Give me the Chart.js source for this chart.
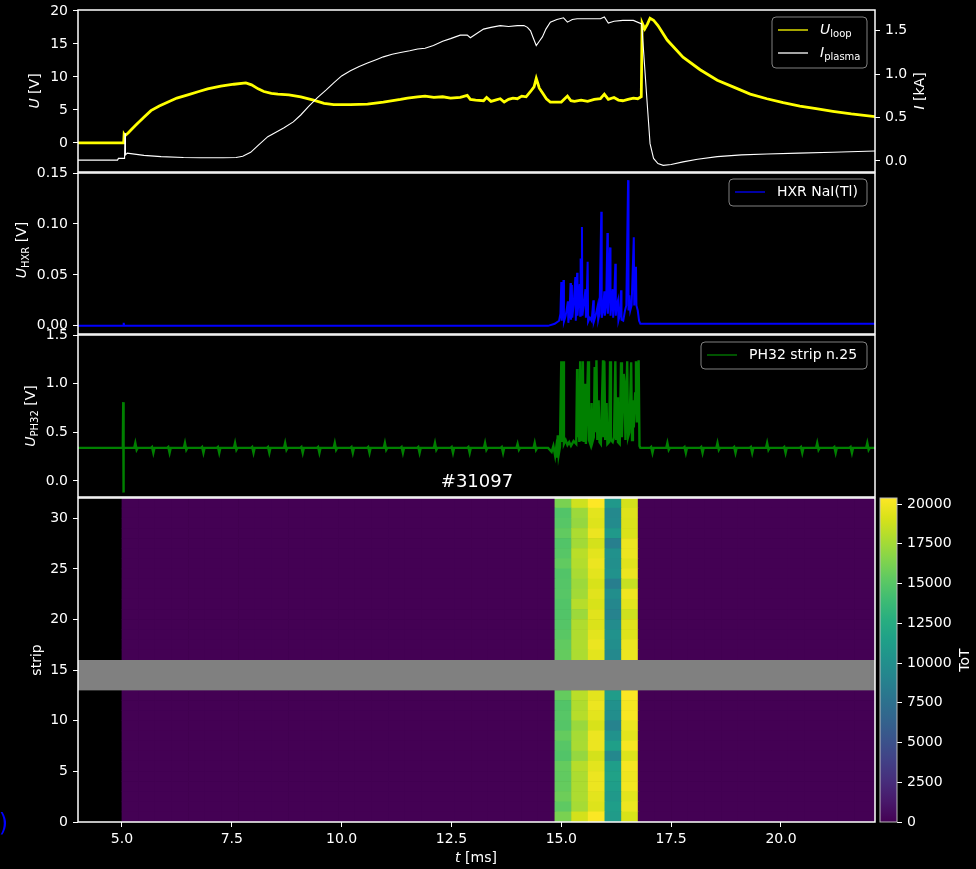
<!DOCTYPE html>
<html>
<head>
<meta charset="utf-8">
<script src="https://cdn.jsdelivr.net/npm/chart.js@4.4.1/dist/chart.umd.min.js"></script>
<style>
  body { margin: 0; background: #000; width: 976px; height: 869px; overflow: hidden; position: relative; }
  canvas { position: absolute; left: 0; }
</style>
</head>
<body>
<canvas id="loopChart"></canvas>
<canvas id="hxrChart"></canvas>
<canvas id="phChart"></canvas>
<canvas id="stripChart"></canvas>
<canvas id="cbarChart"></canvas>
<script>
// ---- data ----
const tMin = 4.0, tMax = 22.14;
const tTicks = [5.0, 7.5, 10.0, 12.5, 15.0, 17.5, 20.0];
const uTicks = [0, 5, 10, 15, 20];
const iTicks = [0.0, 0.5, 1.0, 1.5];
const hxrTicks = [0.00, 0.05, 0.10, 0.15];
const phTicks = [0.0, 0.5, 1.0, 1.5];
const stripTicks = [0, 5, 10, 15, 20, 25, 30];
const totTicks = [0, 2500, 5000, 7500, 10000, 12500, 15000, 17500, 20000];

// loop voltage [ms, V]
const uLoop = [[4.0,0],[5.04,0],[5.05,1.3],[5.07,1.1],[5.14,1.5],[5.3,2.6],[5.5,3.9],[5.66,4.9],[5.85,5.6],
  [6.05,6.2],[6.25,6.8],[6.5,7.3],[6.75,7.8],[6.95,8.2],[7.25,8.6],[7.55,8.9],[7.82,9.1],[7.95,8.8],[8.1,8.2],
  [8.23,7.8],[8.4,7.5],[8.55,7.4],[8.8,7.3],[9.07,7.0],[9.36,6.5],[9.6,6.0],[9.82,5.8],[10.2,5.8],[10.59,5.9],
  [10.95,6.2],[11.34,6.6],[11.5,6.8],[11.73,7.0],[11.9,7.1],[12.1,6.9],[12.3,7.0],[12.48,6.8],[12.7,6.9],
  [12.86,7.2],[12.93,6.6],[13.05,6.5],[13.23,6.4],[13.3,6.9],[13.4,6.3],[13.5,6.5],[13.61,6.7],[13.7,6.2],
  [13.8,6.6],[13.9,6.8],[14.0,6.7],[14.1,7.1],[14.2,7.0],[14.3,7.8],[14.38,8.5],[14.43,9.8],[14.5,8.3],
  [14.57,7.6],[14.66,6.7],[14.75,6.2],[14.9,6.2],[15.0,6.2],[15.14,7.1],[15.22,6.4],[15.3,6.3],[15.45,6.5],
  [15.6,6.3],[15.75,6.6],[15.89,6.7],[15.98,7.4],[16.07,6.6],[16.2,6.9],[16.3,6.5],[16.4,6.4],[16.52,6.6],
  [16.64,6.8],[16.74,6.7],[16.82,7.0],[16.84,18.2],[16.9,17.3],[16.96,18.0],[17.02,18.9],[17.1,18.6],
  [17.2,17.8],[17.41,15.6],[17.77,13.0],[18.16,11.1],[18.55,9.5],[18.91,8.5],[19.3,7.4],[19.68,6.7],
  [20.05,6.1],[20.43,5.6],[20.8,5.2],[21.18,4.8],[21.6,4.4],[22.14,4.0]];

// plasma current [ms, kA]
const iPlasma = [[4.0,0.01],[4.9,0.01],[4.92,0.03],[5.06,0.03],[5.07,0.32],[5.08,0.07],[5.12,0.09],[5.5,0.065],
  [5.89,0.05],[6.4,0.04],[6.8,0.037],[7.3,0.037],[7.6,0.04],[7.75,0.055],[7.93,0.1],[8.1,0.18],[8.32,0.28],
  [8.68,0.38],[8.9,0.45],[9.07,0.53],[9.25,0.63],[9.45,0.73],[9.65,0.82],[9.82,0.9],[10.0,0.98],[10.2,1.04],
  [10.4,1.09],[10.59,1.13],[10.8,1.17],[10.95,1.2],[11.15,1.23],[11.34,1.25],[11.55,1.27],[11.73,1.29],
  [11.9,1.3],[12.09,1.33],[12.3,1.38],[12.48,1.41],[12.7,1.45],[12.86,1.45],[12.93,1.42],[13.05,1.46],
  [13.23,1.52],[13.4,1.54],[13.61,1.56],[13.8,1.55],[14.0,1.56],[14.15,1.56],[14.23,1.54],[14.3,1.5],
  [14.36,1.42],[14.43,1.33],[14.5,1.38],[14.57,1.43],[14.65,1.52],[14.75,1.6],[14.9,1.63],[15.05,1.65],
  [15.14,1.6],[15.25,1.63],[15.36,1.64],[15.6,1.64],[15.89,1.64],[15.98,1.66],[16.07,1.59],[16.2,1.61],
  [16.4,1.62],[16.64,1.62],[16.83,1.58],[16.95,0.70],[17.02,0.2],[17.1,0.03],[17.2,-0.03],[17.32,-0.05],
  [17.5,-0.04],[17.77,-0.01],[18.1,0.02],[18.55,0.05],[19.1,0.07],[19.68,0.08],[20.4,0.09],[21.18,0.1],
  [22.14,0.115]];

// HXR NaI(Tl) [ms, V]
const hxr = [[4.0,0],[5.03,0],[5.04,0.003],[5.05,0],[14.7,0],[14.85,0.002],[14.95,0.005],[14.98,0.012],
  [15.0,0.043],[15.01,0.005],[15.03,0.02],[15.05,0.045],[15.06,0.004],[15.1,0.01],[15.15,0.024],[15.16,0.003],
  [15.19,0.015],[15.21,0.042],[15.22,0.006],[15.24,0.04],[15.25,0.008],[15.28,0.02],[15.32,0.048],[15.33,0.005],
  [15.36,0.052],[15.37,0.01],[15.4,0.03],[15.42,0.041],[15.43,0.01],[15.44,0.066],[15.45,0.02],[15.47,0.097],
  [15.48,0.01],[15.51,0.02],[15.55,0.036],[15.56,0.008],[15.58,0.03],[15.6,0.063],[15.61,0.004],[15.65,0.008],
  [15.69,0.005],[15.73,0.025],[15.74,0.004],[15.78,0.01],[15.83,0.02],[15.84,0.006],[15.87,0.012],[15.91,0.112],
  [15.92,0.008],[15.95,0.015],[15.98,0.034],[15.99,0.01],[16.02,0.02],[16.05,0.091],[16.06,0.012],[16.08,0.03],
  [16.11,0.077],[16.12,0.01],[16.14,0.02],[16.17,0.036],[16.18,0.008],[16.2,0.02],[16.23,0.061],[16.24,0.01],
  [16.26,0.02],[16.29,0.025],[16.3,0.005],[16.33,0.01],[16.36,0.035],[16.37,0.006],[16.41,0.005],[16.45,0.015],
  [16.48,0.02],[16.52,0.143],[16.53,0.015],[16.55,0.03],[16.57,0.015],[16.6,0.02],[16.65,0.087],[16.66,0.02],
  [16.7,0.058],[16.71,0.02],[16.74,0.015],[16.77,0.005],[16.8,0.002],[22.14,0.002]];

// PH32 strip n.25 [ms, V]
const phBase = 0.34;
const phEdges = [[4.0,0.34],[5.02,0.34],[5.03,0.81],[5.035,-0.12],[5.04,0.34],[14.6,0.34],[16.8,0.34],[22.14,0.34]];
const phBlipT = [5.32,5.70,6.07,6.45,6.84,7.20,7.59,7.98,8.34,8.73,9.10,9.48,9.86,10.24,10.62,11.00,11.38,11.76,
  12.14,12.52,12.90,13.28,13.66,14.02,14.41,17.06,17.43,17.82,18.20,18.57,18.95,19.33,19.70,20.09,20.47,20.84,
  21.23,21.60,21.98];
const phBlipHi = [0.39,0.35,0.35,0.39,0.35,0.35,0.39,0.35,0.35,0.39,0.35,0.35,0.39,0.35,0.35,0.39,0.35,0.35,
  0.39,0.35,0.35,0.39,0.35,0.38,0.39,0.35,0.39,0.35,0.35,0.39,0.35,0.35,0.39,0.35,0.35,0.39,0.35,0.35,0.39];
const phBlipLo = [0.32,0.29,0.29,0.32,0.29,0.29,0.32,0.29,0.29,0.32,0.29,0.29,0.32,0.29,0.29,0.32,0.29,0.29,
  0.32,0.29,0.29,0.32,0.29,0.32,0.32,0.29,0.32,0.29,0.29,0.32,0.29,0.29,0.32,0.29,0.29,0.32,0.29,0.29,0.32];
const phBurst = [[14.7,0.34],[14.78,0.30],[14.82,0.36],[14.86,0.26],[14.88,0.33],[14.9,0.24],[14.92,0.47],
  [14.94,0.27],[14.97,0.35],[15.0,1.23],[15.02,0.40],[15.04,1.23],[15.06,0.38],[15.1,0.42],[15.14,0.37],
  [15.18,0.40],[15.22,0.36],[15.28,0.41],[15.34,0.38],[15.36,1.15],[15.37,0.45],[15.39,0.83],[15.41,0.40],
  [15.43,1.23],[15.45,0.42],[15.47,0.5],[15.49,1.23],[15.51,0.40],[15.54,1.0],[15.56,0.38],[15.61,1.23],
  [15.63,0.42],[15.66,0.38],[15.69,0.8],[15.71,0.40],[15.74,0.45],[15.76,1.17],[15.78,0.50],[15.8,1.24],
  [15.82,0.42],[15.85,0.83],[15.87,0.40],[15.9,0.38],[15.95,1.24],[15.96,0.45],[15.98,1.23],[16.0,0.42],
  [16.03,0.80],[16.05,0.38],[16.09,0.40],[16.11,1.23],[16.13,0.42],[16.17,0.40],[16.2,0.45],[16.23,1.23],
  [16.25,0.42],[16.27,0.86],[16.29,0.40],[16.33,0.38],[16.36,1.22],[16.38,0.45],[16.42,1.10],[16.44,1.0],
  [16.46,0.42],[16.5,1.23],[16.52,0.45],[16.55,0.50],[16.59,1.22],[16.61,0.42],[16.63,0.83],[16.65,0.55],
  [16.68,0.9],[16.7,1.23],[16.72,0.6],[16.74,1.1],[16.76,1.24],[16.78,0.36]];

// ToT heatmap: strips 0..31, time bins of the detector frame
const binStart = 5.0, binWidth = 0.379, nBins = 46;
const hotBins = [26, 27, 28, 29, 30];
const hotTot = [
  [16200,15300,15800,15500,15400,15500,14800,15000,15500,14900,15000,14800,15500,null,null,null,
   15500,15400,15100,14900,14800,14800,15000,14900,14800,15400,15000,14800,15400,15000,14800,16200],
  [19000,17600,17800,17800,17800,18100,17100,17700,17600,17200,18100,17900,18200,null,null,null,
   17800,17900,17900,17900,17300,18100,17500,17300,17700,18000,18200,17500,17800,17100,17300,18800],
  [20300,19300,19500,19800,19800,19500,19000,19800,19800,19100,19500,19800,19500,null,null,null,
   19500,19800,19500,19200,19400,19100,19400,19100,19500,19800,19500,19000,19800,19300,19500,20380],
  [11000,11300,10900,11300,11600,11300,9400,11400,10300,9000,9900,10200,11100,null,null,null,
   9500,9900,10300,9800,9000,9300,9900,8600,10300,10000,10200,8700,10900,9700,9500,10800],
  [19100,19800,19500,20000,19900,20100,19300,20100,19500,19800,20200,20100,20300,null,null,null,
   19800,19800,19300,19400,18800,19500,19900,18600,19800,19400,19800,19800,19200,19200,19300,19000]
];
const deadStrips = [13, 16];
const totMax = 20380;

// ---- style ----
const FONT = 'DejaVu Sans';
Chart.defaults.font.family = FONT;
Chart.defaults.font.size = 14;
Chart.defaults.color = '#ffffff';
Chart.defaults.animation = false;
Chart.defaults.responsive = false;
Chart.defaults.plugins.legend.display = false;
Chart.defaults.plugins.tooltip.enabled = false;

const viridisStops = ['#440154','#48186a','#472d7b','#424086','#3b528b','#33638d','#2c728e','#26828e',
  '#21918c','#1fa088','#28ae80','#3fbc73','#5ec962','#84d44b','#addc30','#d8e219','#fde725'];
const hexRgb = h => [1, 3, 5].map(i => parseInt(h.slice(i, i + 2), 16));
function viridis(f) {
  f = Math.max(0, Math.min(1, f));
  const p = f * 16, i = Math.min(15, Math.floor(p)), w = p - i;
  const a = hexRgb(viridisStops[i]), b = hexRgb(viridisStops[i + 1]);
  return 'rgb(' + a.map((c, k) => Math.round(c + (b[k] - c) * w)).join(',') + ')';
}

// place a full-width canvas so its chart area spans areaTop..areaBottom
function place(id, areaTop, areaBottom, below) {
  const cv = document.getElementById(id);
  const top = Math.max(0, areaTop - 15);
  cv.width = 976; cv.height = areaBottom + below - top;
  cv.style.top = top + 'px';
  return { ctx: cv.getContext('2d'), padTop: areaTop - top };
}

function yAxis(min, max, ticks, digits, pos, width) {
  return {
    type: 'linear', position: pos, min, max,
    afterBuildTicks: s => { s.ticks = ticks.map(v => ({ value: v })); },
    afterFit: s => { s.width = width; s.paddingTop = 0; s.paddingBottom = 0; },
    ticks: { callback: v => v.toFixed(digits), padding: 5, color: '#fff' },
    grid: { drawOnChartArea: false, drawTicks: true, tickLength: 5, color: '#fff', lineWidth: 1 },
    border: { display: false }
  };
}
const hiddenX = { type: 'linear', min: tMin, max: tMax, display: false };

function drawRich(ctx, parts, x, y, rot, size, align) {
  ctx.save();
  ctx.translate(x, y);
  if (rot) ctx.rotate(-Math.PI / 2);
  const fontOf = p => (p.it ? 'italic ' : '') + (p.sub ? Math.round(size * 0.72) : size) + 'px ' + FONT;
  let w = 0;
  parts.forEach(p => { ctx.font = fontOf(p); w += ctx.measureText(p.t).width; });
  let cx = align === 'left' ? 0 : -w / 2;
  ctx.textBaseline = 'middle';
  ctx.textAlign = 'left';
  ctx.fillStyle = '#fff';
  parts.forEach(p => {
    ctx.font = fontOf(p);
    ctx.fillText(p.t, cx, p.sub ? size * 0.3 : 0);
    cx += ctx.measureText(p.t).width;
  });
  ctx.restore();
}

// frame, rich axis titles, matplotlib-like legend box
const decor = {
  id: 'decor',
  afterDraw(chart, args, o) {
    const ctx = chart.ctx, a = chart.chartArea, off = o.offset;
    ctx.save();
    ctx.strokeStyle = o.frameColor || '#fff';
    ctx.lineWidth = o.frameWidth || 1.5;
    ctx.strokeRect(a.left, a.top, a.right - a.left, a.bottom - a.top);
    (o.titles || []).forEach(t => drawRich(ctx, t.parts, t.x, t.y - off, t.rot, t.size || 14));
    if (o.legend) {
      const L = o.legend;
      ctx.beginPath();
      ctx.roundRect(L.x, L.y - off, L.w, L.h, 4);
      ctx.fillStyle = 'rgba(0,0,0,0.8)';
      ctx.fill();
      ctx.strokeStyle = '#808080';
      ctx.lineWidth = 1;
      ctx.stroke();
      L.items.forEach(it => {
        ctx.beginPath();
        ctx.strokeStyle = it.color;
        ctx.lineWidth = 1.3;
        ctx.moveTo(L.x + 6, it.y - off);
        ctx.lineTo(L.x + 36, it.y - off);
        ctx.stroke();
        drawRich(ctx, it.parts, L.x + L.textDx, it.y - off, false, 14, 'left');
      });
    }
    (o.texts || []).forEach(t => {
      ctx.font = t.size + 'px ' + FONT;
      ctx.fillStyle = t.color;
      ctx.textAlign = t.align || 'center';
      ctx.textBaseline = 'middle';
      ctx.fillText(t.text, t.x, t.y - off);
    });
    ctx.restore();
  }
};

const pts = arr => arr.map(([x, y]) => ({ x, y }));
const lineDs = (label, data, color, width, extra) => Object.assign({
  label, data, borderColor: color, borderWidth: width, pointRadius: 0, tension: 0, fill: false
}, extra || {});

// ---- panel 1: loop voltage and plasma current ----
const p1 = place('loopChart', 10, 172, 15);
new Chart(p1.ctx, {
  type: 'line',
  data: { datasets: [
    lineDs('U_loop', pts(uLoop), '#ffff00', 2.8, { yAxisID: 'y', order: 2 }),
    lineDs('I_plasma', pts(iPlasma), '#ffffff', 1.1, { yAxisID: 'y1', order: 1 })
  ] },
  options: {
    layout: { padding: { top: p1.padTop, bottom: 15, left: 0, right: 0 } },
    scales: {
      x: hiddenX,
      y: yAxis(-4.4, 20.15, uTicks, 0, 'left', 78),
      y1: yAxis(-0.127, 1.74, iTicks, 1, 'right', 101)
    },
    plugins: { decor: {
      offset: 0,
      titles: [
        { parts: [{ t: 'U', it: true }, { t: ' [V]' }], x: 35, y: 91, rot: true },
        { parts: [{ t: 'I', it: true }, { t: ' [kA]' }], x: 920, y: 91, rot: true }
      ],
      legend: { x: 772, y: 17, w: 95, h: 51, textDx: 48, items: [
        { color: '#ffff00', y: 30, parts: [{ t: 'U', it: true }, { t: 'loop', sub: true }] },
        { color: '#ffffff', y: 53, parts: [{ t: 'I', it: true }, { t: 'plasma', sub: true }] }
      ] }
    } }
  },
  plugins: [decor]
});

// ---- panel 2: HXR ----
const p2 = place('hxrChart', 173, 334, 15);
new Chart(p2.ctx, {
  type: 'line',
  data: { datasets: [lineDs('HXR NaI(Tl)', pts(hxr), '#0000ff', 2.0)] },
  options: {
    layout: { padding: { top: p2.padTop, bottom: 15, left: 0, right: 101 } },
    scales: { x: hiddenX, y: yAxis(-0.008, 0.15, hxrTicks, 2, 'left', 78) },
    plugins: { decor: {
      offset: 173 - p2.padTop,
      titles: [{ parts: [{ t: 'U', it: true }, { t: 'HXR', sub: true }, { t: ' [V]' }], x: 22, y: 250, rot: true }],
      legend: { x: 729, y: 179, w: 138, h: 27, textDx: 48, items: [
        { color: '#0000ff', y: 192, parts: [{ t: 'HXR NaI(Tl)' }] }
      ] }
    } }
  },
  plugins: [decor]
});

// ---- panel 3: PH32 strip ----
const phPoints = pts(phEdges).concat(pts(phBurst));
phBlipT.forEach((t, k) => {
  phPoints.push({ x: t - 0.04, y: phBase }, { x: t - 0.015, y: phBlipHi[k] },
                { x: t + 0.015, y: phBlipLo[k] }, { x: t + 0.04, y: phBase });
});
phPoints.sort((a, b) => a.x - b.x);
const p3 = place('phChart', 335, 497, 15);
new Chart(p3.ctx, {
  type: 'line',
  data: { datasets: [lineDs('PH32 strip n.25', phPoints, '#008000', 2.4)] },
  options: {
    layout: { padding: { top: p3.padTop, bottom: 15, left: 0, right: 101 } },
    scales: { x: hiddenX, y: yAxis(-0.165, 1.5, phTicks, 1, 'left', 78) },
    plugins: { decor: {
      offset: 335 - p3.padTop,
      titles: [{ parts: [{ t: 'U', it: true }, { t: 'PH32', sub: true }, { t: ' [V]' }], x: 31, y: 416, rot: true }],
      legend: { x: 701, y: 342, w: 166, h: 27, textDx: 48, items: [
        { color: '#008000', y: 355, parts: [{ t: 'PH32 strip n.25' }] }
      ] },
      texts: [{ text: '#31097', x: 477, y: 482, size: 18, color: '#fff' }]
    } }
  },
  plugins: [decor]
});

// ---- panel 4: ToT per strip ----
const stripDatasets = [];
for (let r = 0; r < 32; r++) {
  if (hotTot[0][r] === null) continue;
  const data = [], colors = [];
  for (let k = 0; k < nBins; k++) {
    const h = hotBins.indexOf(k);
    const v = h >= 0 ? hotTot[h][r] : 0;
    data.push({ x: binStart + (k + 0.5) * binWidth, y: [r, r + 1] });
    colors.push(viridis(v / totMax));
  }
  stripDatasets.push({ type: 'bar', label: 'strip ' + r, data, backgroundColor: colors,
    borderWidth: 0, barPercentage: 1, categoryPercentage: 1, grouped: false, clip: 0 });
}
const deadBand = {
  id: 'deadBand',
  afterDatasetsDraw(chart) {
    const a = chart.chartArea, y = chart.scales.y, ctx = chart.ctx;
    const y0 = y.getPixelForValue(deadStrips[1]), y1 = y.getPixelForValue(deadStrips[0]);
    ctx.save();
    ctx.fillStyle = '#808080';
    ctx.fillRect(a.left, y0, a.right - a.left, y1 - y0);
    ctx.restore();
  }
};
const p4 = place('stripChart', 498, 822, 47);
new Chart(p4.ctx, {
  type: 'bar',
  data: { datasets: stripDatasets },
  options: {
    layout: { padding: { top: p4.padTop, bottom: 0, left: 0, right: 101 } },
    scales: {
      x: {
        type: 'linear', min: tMin, max: tMax, offset: false,
        afterBuildTicks: s => { s.ticks = tTicks.map(v => ({ value: v })); },
        afterFit: s => { s.height = 47; },
        ticks: { callback: v => v.toFixed(1), padding: 4, color: '#fff', maxRotation: 0 },
        grid: { offset: false, drawOnChartArea: false, drawTicks: true, tickLength: 5, color: '#fff' },
        border: { display: false }
      },
      y: yAxis(0, 32, stripTicks, 0, 'left', 78)
    },
    plugins: { decor: {
      offset: 498 - p4.padTop,
      titles: [
        { parts: [{ t: 'strip' }], x: 37, y: 660, rot: true },
        { parts: [{ t: 't', it: true }, { t: ' [ms]' }], x: 476, y: 858, rot: false }
      ],
      texts: [{ text: ')', x: 8, y: 825, size: 24, color: '#0000ff', align: 'right' }]
    } }
  },
  plugins: [deadBand, decor]
});

// ---- colour bar ----
const cbarFill = {
  id: 'cbarFill',
  beforeDatasetsDraw(chart) {
    const a = chart.chartArea, ctx = chart.ctx;
    const g = ctx.createLinearGradient(0, a.bottom, 0, a.top);
    viridisStops.forEach((c, i) => g.addColorStop(i / 16, c));
    ctx.save();
    ctx.fillStyle = g;
    ctx.fillRect(a.left, a.top, a.right - a.left, a.bottom - a.top);
    ctx.restore();
  }
};
const p5 = place('cbarChart', 498, 822, 47);
new Chart(p5.ctx, {
  type: 'bar',
  data: { datasets: [] },
  options: {
    layout: { padding: { top: p5.padTop, bottom: 47, left: 880, right: 0 } },
    scales: {
      x: { type: 'linear', display: false },
      y: yAxis(0, totMax, totTicks, 0, 'right', 79)
    },
    plugins: { decor: {
      offset: 498 - p5.padTop, frameColor: '#bbbbbb', frameWidth: 1,
      titles: [{ parts: [{ t: 'ToT' }], x: 965, y: 660, rot: true }]
    } }
  },
  plugins: [cbarFill, decor]
});
</script>
</body>
</html>
